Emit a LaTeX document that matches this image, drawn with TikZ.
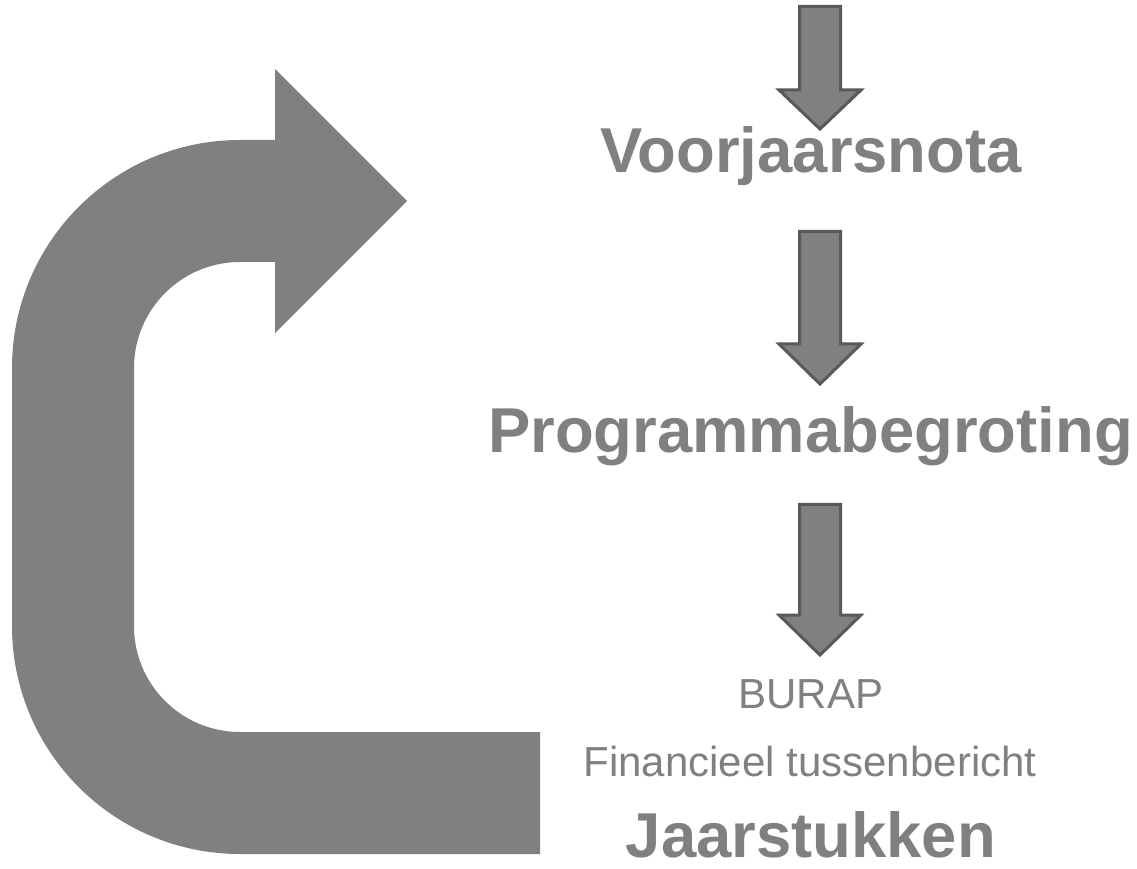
\documentclass[tikz,border=0pt]{standalone}
\usepackage{fontspec}
\setmainfont{Liberation Sans}
\definecolor{shapegray}{RGB}{128,128,128}
\definecolor{edgegray}{RGB}{89,89,89}
\begin{document}
\begin{tikzpicture}[x=1pt,y=1pt,
  bigarrow/.style={fill=shapegray,draw=none},
  stepdown/.style={fill=shapegray,draw=edgegray,line width=3pt,line join=miter},
  title/.style={text=shapegray,font=\fontsize{63.4}{70}\selectfont\bfseries,anchor=base,inner sep=0pt},
  sub/.style={text=shapegray,font=\fontsize{42}{48}\selectfont,anchor=base,inner sep=0pt}]
\useasboundingbox (0,0) rectangle (1137,868);

% big U-turn arrow
\path[bigarrow] (407,667) -- (275,535) -- (275,606) -- (240,606)
  arc[start angle=90,end angle=180,radius=106] -- (134,242)
  arc[start angle=180,end angle=270,radius=106] -- (540,136) -- (540,14) -- (240,14)
  arc[start angle=270,end angle=180,radius=228] -- (12,500)
  arc[start angle=180,end angle=90,radius=228] -- (275,728) -- (275,799) -- cycle;

% small down arrows
\newcommand{\stepdownarrow}[3]{%
  \path[stepdown] (799.5,#1) -- (840.5,#1) -- (840.5,#2) -- (861,#2) -- (820,#3)
    -- (779,#2) -- (799.5,#2) -- cycle;}
\stepdownarrow{861.5}{778}{739}
\stepdownarrow{636.5}{524}{484}
\stepdownarrow{363.5}{253}{213}

% texts
\node[title] (voorjaar) at (811,695) {Voorjaarsnota};
\node[title] (begroting) at (810.5,415) {Programmabegroting};
\node[sub] (burap) at (811,160) {BURAP};
\node[sub] (tussen) at (810,92) {Financieel tussenbericht};
\node[title] (jaar) at (811,11) {Jaarstukken};
\end{tikzpicture}
\end{document}
